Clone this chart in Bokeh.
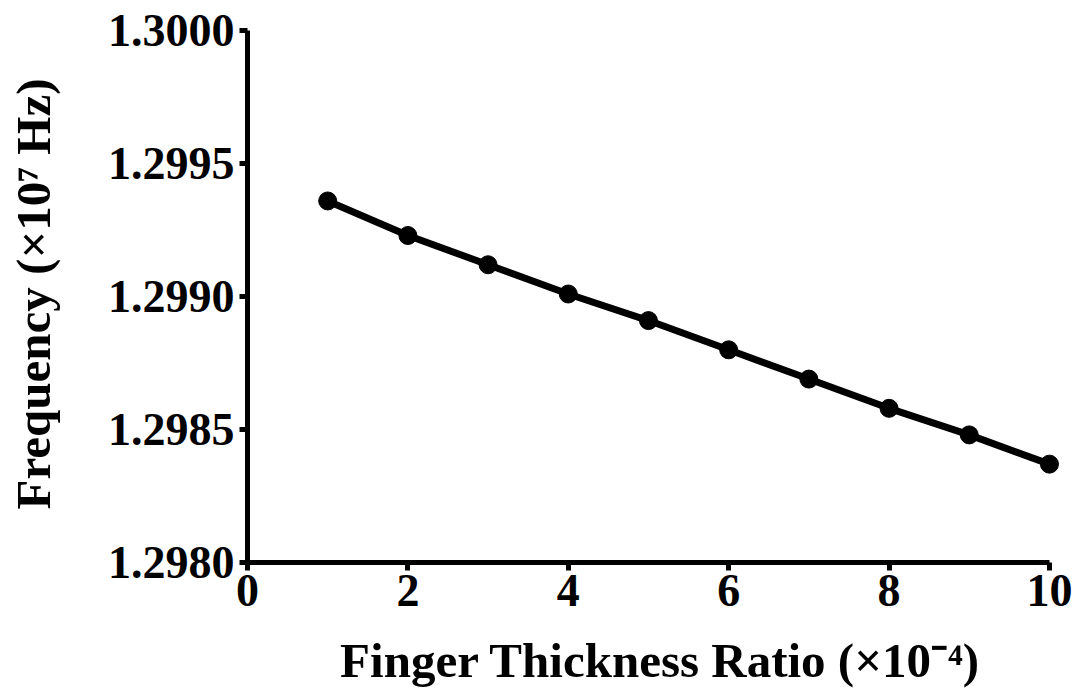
from bokeh.plotting import figure
from bokeh.models import Range1d, FixedTicker, PrintfTickFormatter
from bokeh.embed import file_html
from bokeh.resources import INLINE

ratio = [1, 2, 3, 4, 5, 6, 7, 8, 9, 10]
frequency = [1.29936, 1.29923, 1.29912, 1.29901, 1.29891,
             1.29880, 1.29869, 1.29858, 1.29848, 1.29837]
x_ticks = [0, 2, 4, 6, 8, 10]
y_ticks = [1.2980, 1.2985, 1.2990, 1.2995, 1.3000]

FONT = "Liberation Serif"

p = figure(width=1080, height=690, output_backend="svg", toolbar_location=None,
           x_range=Range1d(0, 10.3), y_range=Range1d(1.2980, 1.30002),
           min_border_left=247, min_border_right=7, min_border_top=25,
           min_border_bottom=128)
p.outline_line_color = None
p.grid.visible = False
p.background_fill_color = "white"
p.border_fill_color = "white"

p.line(ratio, frequency, line_width=7, line_color="black")
p.scatter(ratio, frequency, size=18, fill_color="black", line_color="black")

for ax in (p.xaxis[0], p.yaxis[0]):
    ax.axis_line_width = 5
    ax.axis_line_color = "black"
    ax.major_tick_line_width = 5
    ax.major_tick_out = 8
    ax.major_tick_in = 0
    ax.minor_tick_line_color = None
    ax.major_label_text_font = FONT
    ax.major_label_text_font_style = "bold"
    ax.major_label_text_font_size = "46px"
    ax.major_label_text_color = "black"
    ax.axis_label_text_font = FONT
    ax.axis_label_text_font_style = "bold"
    ax.axis_label_text_font_size = "49px"
    ax.axis_label_text_color = "black"

p.xaxis[0].ticker = FixedTicker(ticks=x_ticks)
p.xaxis[0].bounds = (0, 10)
p.xaxis[0].major_label_standoff = 4
p.xaxis[0].axis_label = "Finger Thickness Ratio (×10⁻⁴)"
p.xaxis[0].axis_label_standoff = 24

p.yaxis[0].ticker = FixedTicker(ticks=y_ticks)
p.yaxis[0].bounds = (1.2980, 1.3000)
p.yaxis[0].formatter = PrintfTickFormatter(format="%.4f")
p.yaxis[0].major_label_standoff = 5
p.yaxis[0].axis_label = "Frequency (×10⁷ Hz)"
p.yaxis[0].axis_label_standoff = 44

open("out.html", "w").write(file_html(p, INLINE))
